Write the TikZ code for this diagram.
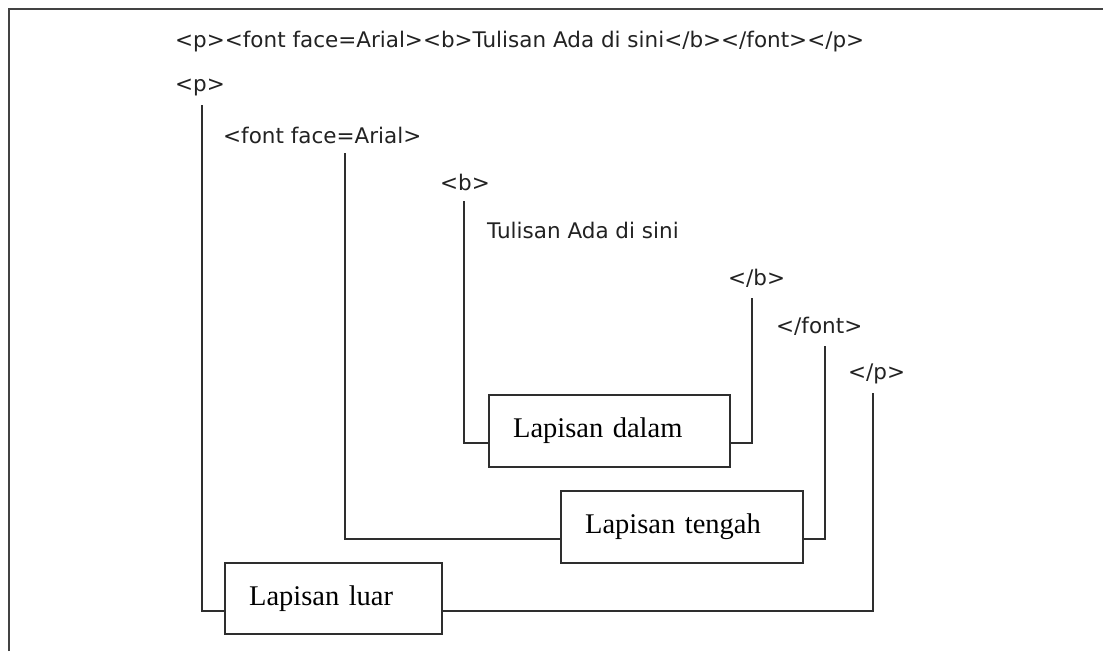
\documentclass[tikz,border=0pt]{standalone}
\usepackage{fontspec}
\setmainfont{Liberation Serif}
\newfontfamily\tagfont{DejaVu Sans}
\definecolor{linegray}{HTML}{2E2E2E}
\definecolor{textgray}{HTML}{222222}
\begin{document}
\begin{tikzpicture}[x=1pt,y=-1pt,
  tag/.style={anchor=west, inner sep=0pt, text=textgray, font=\tagfont\fontsize{21.5}{25}\selectfont},
  layerbox/.style={draw=linegray, line width=2.2pt, anchor=north west, inner xsep=24pt, inner ysep=0pt,
    align=left, text=black, font=\fontsize{28.5}{32}\selectfont},
  conn/.style={draw=linegray, line width=2.2pt},
  frame/.style={draw=linegray!90!white, line width=2.5pt}]
\useasboundingbox (0,0) rectangle (1103,651);
\draw[frame] (9,651) -- (9,9) -- (1103,9);

\node[tag] (top) at (175,42) {<p><font face=Arial><b>Tulisan Ada di sini</b></font></p>};
\node[tag] (p) at (175,87) {<p>};
\node[tag] (font) at (223,135) {<font face=Arial>};
\node[tag] (b) at (440,182) {<b>};
\node[tag] (txt) at (487,230) {Tulisan Ada di sini};
\node[tag] (eb) at (728,278) {</b>};
\node[tag] (efont) at (776,326) {</font>};
\node[tag] (ep) at (848,374) {</p>};

\node[layerbox, text width=193pt, minimum height=72pt] (dalam) at (488,394) {Lapisan dalam};
\node[layerbox, text width=194pt, minimum height=72pt] (tengah) at (560,490) {Lapisan tengah};
\node[layerbox, text width=169pt, minimum height=71pt] (luar) at (224,562) {Lapisan luar};

\coordinate (pT) at (202,105);
\coordinate (fontT) at (345,153);
\coordinate (bT) at (464,201);
\coordinate (ebT) at (752,298);
\coordinate (efontT) at (825,346);
\coordinate (epT) at (873,393);

\draw[conn] (pT) |- ([yshift=-12pt]luar.west);
\draw[conn] (fontT) |- ([yshift=-12pt]tengah.west);
\draw[conn] (bT) |- ([yshift=-12pt]dalam.west);
\draw[conn] (ebT) |- ([yshift=-12pt]dalam.east);
\draw[conn] (efontT) |- ([yshift=-12pt]tengah.east);
\draw[conn] (epT) |- ([yshift=-12pt]luar.east);
\end{tikzpicture}
\end{document}
